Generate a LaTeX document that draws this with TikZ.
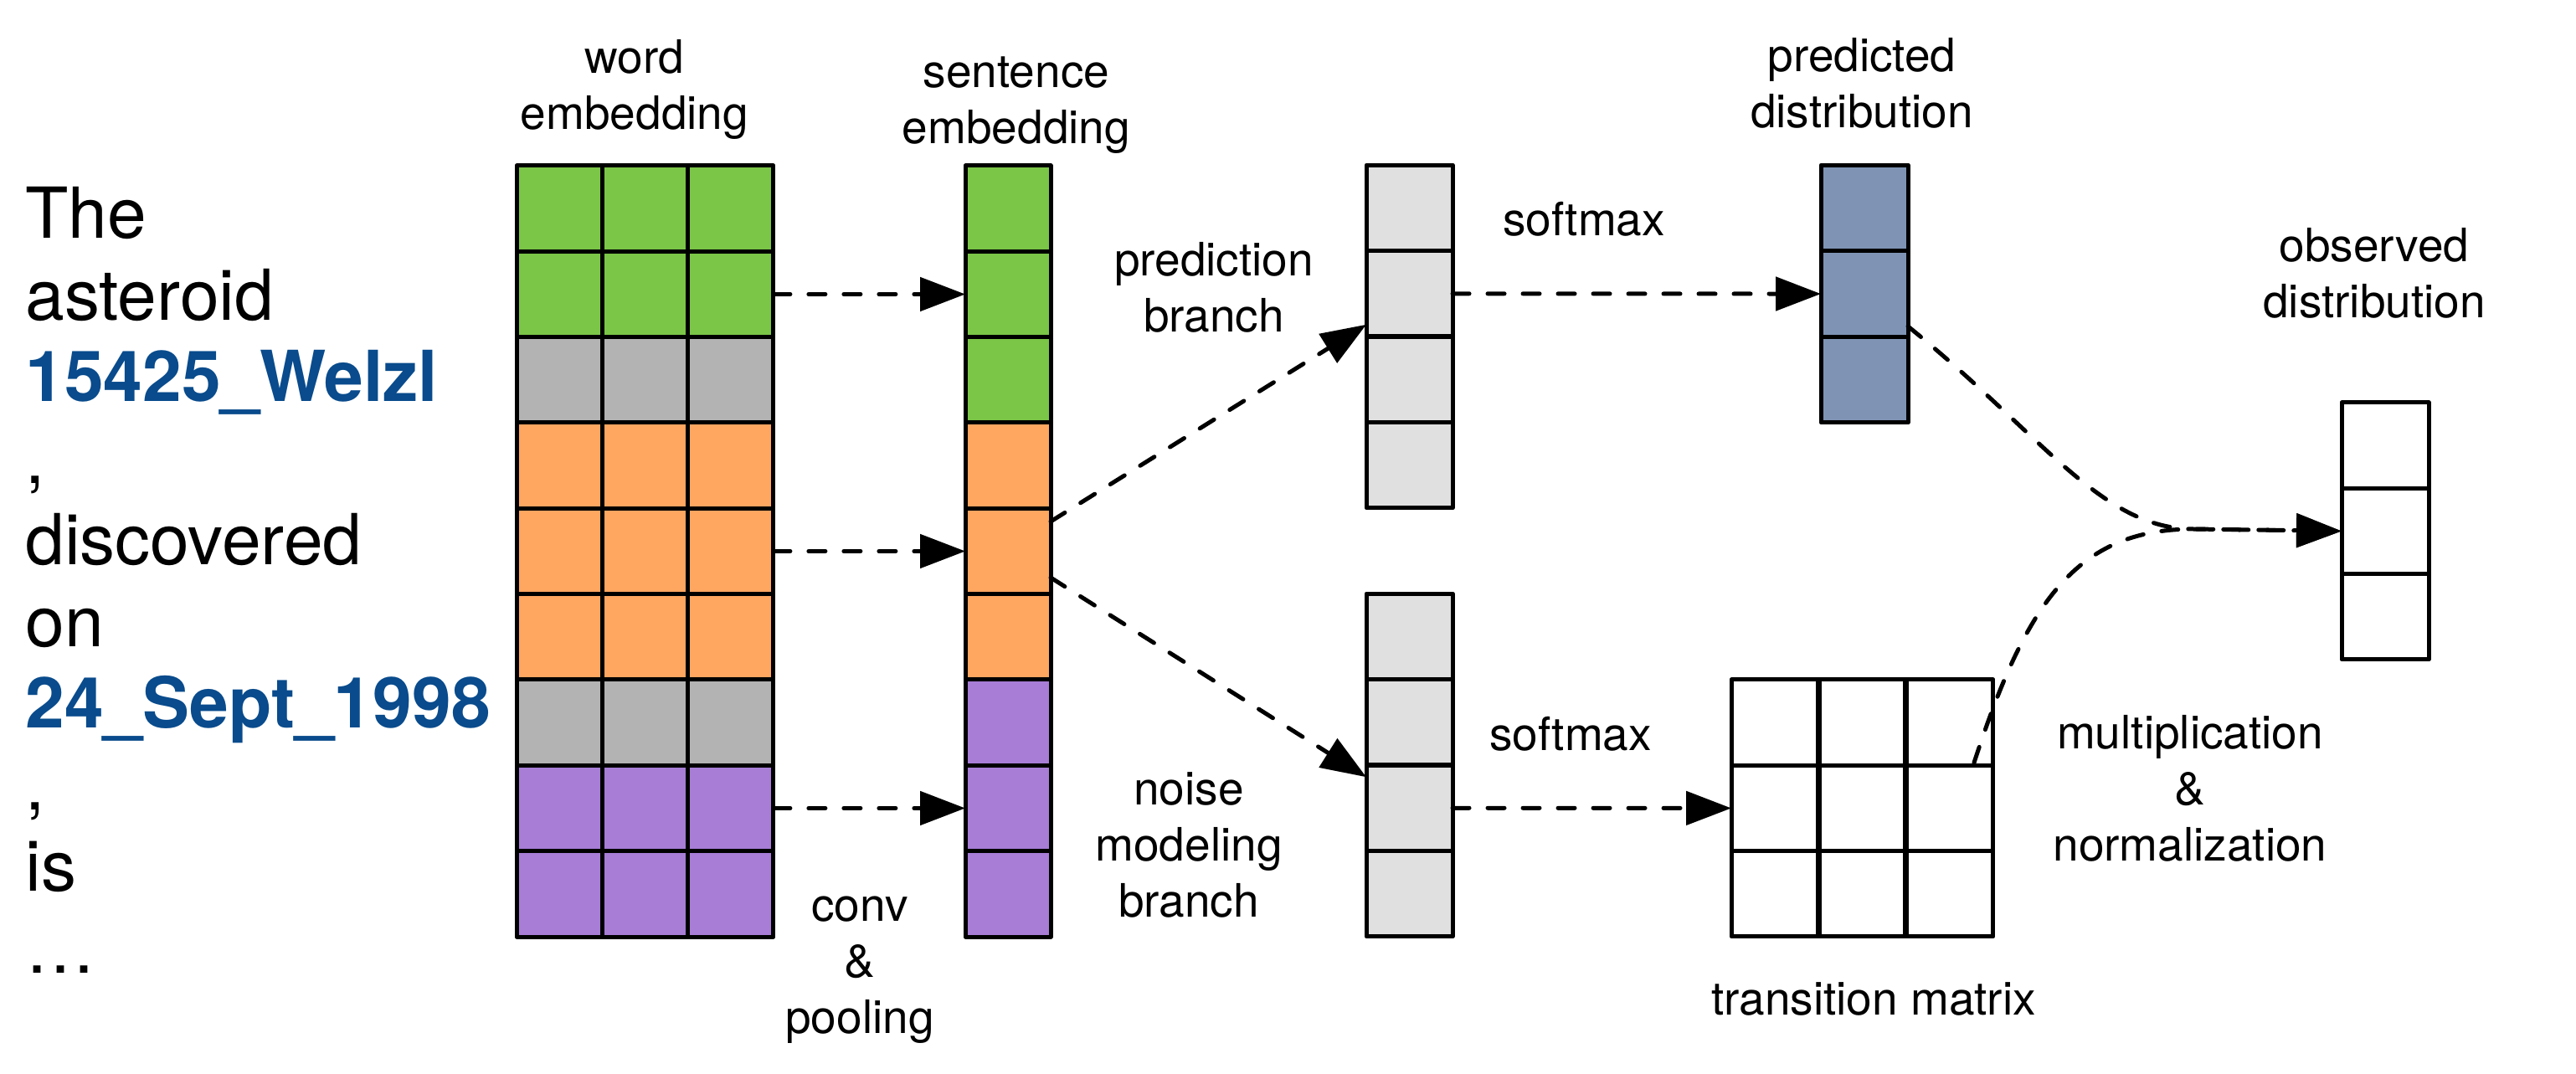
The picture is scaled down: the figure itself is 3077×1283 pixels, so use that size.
\documentclass[tikz,border=0pt]{standalone}
\usepackage{fontspec}
\setmainfont{TeX Gyre Heros}
\usetikzlibrary{arrows.meta,calc}
\definecolor{cg}{RGB}{123,197,71}
\definecolor{cy}{RGB}{179,179,179}
\definecolor{co}{RGB}{255,166,96}
\definecolor{cp}{RGB}{167,125,214}
\definecolor{cl}{RGB}{224,224,224}
\definecolor{cb}{RGB}{127,148,181}
\definecolor{cblue}{RGB}{9,75,140}
\begin{document}
\begin{tikzpicture}[x=0.5pt,y=-0.5pt,
  cell/.style={draw=black, line width=2.5pt, minimum height=51.2pt, inner sep=0pt, outer sep=0pt, line join=round},
  dasharrow/.style={line width=2.5pt, line cap=round, dash pattern=on 10pt off 11pt, -{Triangle[length=27pt,width=20pt]}},
  lbl/.style={font=\fontsize{27.5pt}{33.5pt}\selectfont, inner sep=0pt, anchor=base},
  big/.style={font=\fontsize{42pt}{48.75pt}\selectfont, inner sep=0pt, anchor=base west}]
\useasboundingbox (0,0) rectangle (3077,1283);

% left sentence
\node[big] (sent) at (30,285) {\begin{tabular}[t]{@{}l@{}}The\\asteroid\\\textcolor{cblue}{\bfseries 15425\_Welzl}\\,\\discovered\\on\\\textcolor{cblue}{\bfseries 24\_Sept\_1998}\\,\\is\\…\end{tabular}};

% word embedding grid
\foreach \r/\col in {1/cg,2/cg,3/cy,4/co,5/co,6/co,7/cy,8/cp,9/cp}{
  \foreach \c in {1,2,3}{
    \node[cell, fill=\col, minimum width=51.15pt] (w-\r-\c) at ({617+(\c-0.5)*102.3},{198+(\r-0.5)*102.33}) {};
  }
}
% sentence embedding
\foreach \r/\col in {1/cg,2/cg,3/cg,4/co,5/co,6/co,7/cp,8/cp,9/cp}{
  \node[cell, fill=\col, minimum width=51pt] (s-\r) at (1204,{198+(\r-0.5)*102.33}) {};
}
% prediction branch column
\foreach \r in {1,...,4}{
  \node[cell, fill=cl, minimum width=51.5pt] (g-\r) at (1683.5,{197+(\r-0.5)*102.5}) {};
}
% noise branch column
\foreach \r in {1,...,4}{
  \node[cell, fill=cl, minimum width=51.5pt] (n-\r) at (1683.5,{709+(\r-0.5)*102.5}) {};
}
% predicted distribution
\foreach \r in {1,2,3}{
  \node[cell, fill=cb, minimum width=52pt] (p-\r) at (2227,{197+(\r-0.5)*102.7}) {};
}
% transition matrix
\foreach \r in {1,2,3}{
  \foreach \c in {1,2,3}{
    \node[cell, fill=white, minimum width=52.15pt] (t-\r-\c) at ({2068+(\c-0.5)*104.3},{812+(\r-0.5)*102.3}) {};
  }
}
\draw[line width=3.6pt] (t-1-2.north west) -- (t-3-2.south west);
\draw[line width=3.6pt] (t-1-3.north west) -- (t-3-3.south west);
% observed distribution
\foreach \r in {1,2,3}{
  \node[cell, fill=white, minimum width=52pt] (o-\r) at (2849,{481+(\r-0.5)*102.3}) {};
}

% labels
\node[lbl] (lw) at (758,88) {\begin{tabular}[t]{@{}c@{}}word\\embedding\end{tabular}};
\node[lbl] (ls) at (1214,105) {\begin{tabular}[t]{@{}c@{}}sentence\\embedding\end{tabular}};
\node[lbl] (lc) at (1027,1100) {\begin{tabular}[t]{@{}c@{}}conv\\\&\\pooling\end{tabular}};
\node[lbl] (lpb) at (1450,330) {\begin{tabular}[t]{@{}c@{}}prediction\\branch\end{tabular}};
\node[lbl] (lnb) at (1420,961) {\begin{tabular}[t]{@{}c@{}}noise\\modeling\\branch\end{tabular}};
\node[lbl] (lsm1) at (1892,282) {softmax};
\node[lbl] (lsm2) at (1876,896) {softmax};
\node[lbl] (lpd) at (2224,86) {\begin{tabular}[t]{@{}c@{}}predicted\\distribution\end{tabular}};
\node[lbl] (lod) at (2836,313) {\begin{tabular}[t]{@{}c@{}}observed\\distribution\end{tabular}};
\node[lbl] (lmn) at (2616,894) {\begin{tabular}[t]{@{}c@{}}multiplication\\\&\\normalization\end{tabular}};
\node[lbl] (ltm) at (2238,1212) {transition matrix};

% connectors
\draw[dasharrow] (w-2-3.east) -- (s-2.west);
\draw[dasharrow] (w-5-3.east) -- (s-5.west);
\draw[dasharrow] (w-8-3.east) -- (s-8.west);
\draw[dasharrow] ([yshift=17.75pt]s-5.east) -- ([yshift=-18.5pt]g-2.west);
\draw[dasharrow] ([yshift=-15.75pt]s-5.east) -- ([yshift=18.5pt]n-3.west);
\draw[dasharrow] (g-2.east) -- (p-2.west);
\draw[dasharrow] (n-3.east) -- (t-2-1.west);
\draw[dasharrow] ([yshift=6.2pt]p-2.south east) .. controls (2440,520) and (2510,632) .. (2620,632) -- (o-2.west);
\draw[dasharrow] ([xshift=-11.5pt,yshift=1.5pt]t-1-3.south east) .. controls (2420,720) and (2480,632) .. (2620,632) -- (o-2.west);
\end{tikzpicture}
\end{document}
